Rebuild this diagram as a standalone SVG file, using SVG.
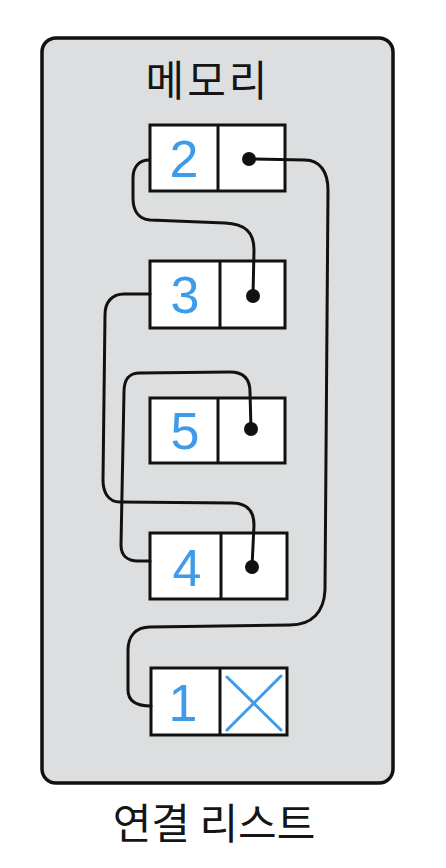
<svg xmlns="http://www.w3.org/2000/svg" width="446" height="868" viewBox="0 0 446 868">
<style>
.cell{fill:#ffffff;stroke:#111;stroke-width:3}
.div{stroke:#111;stroke-width:3}
.num{font-family:"Liberation Sans",Arial,sans-serif;font-size:52px;fill:#3d9be9;text-anchor:middle}
.lbl{font-family:"Noto Sans CJK KR","Noto Sans",sans-serif;font-size:42px;fill:#151515;text-anchor:middle}
.wire{fill:none;stroke:#111;stroke-width:3;stroke-linecap:round;stroke-linejoin:round}
.dot{fill:#111}
</style>
<rect width="446" height="868" fill="#ffffff"/>
<g id="memory">
<rect x="42" y="38" width="351" height="745" rx="14" fill="#dcdedf" stroke="#111" stroke-width="3.5"/>
<text class="lbl" x="208" y="96" font-size="44" letter-spacing="3">메모리</text>
</g>
<g id="node2">
<rect class="cell" x="150" y="125" width="135" height="66"/>
<line class="div" x1="218" y1="125" x2="218" y2="191"/>
<text class="num" x="184" y="177">2</text>
<circle class="dot" cx="249" cy="159" r="7"/>
</g>
<g id="node3">
<rect class="cell" x="150" y="261" width="135" height="67"/>
<line class="div" x1="220" y1="261" x2="220" y2="328"/>
<text class="num" x="185" y="313">3</text>
<circle class="dot" cx="253" cy="296" r="7"/>
</g>
<g id="node5">
<rect class="cell" x="150" y="398" width="135" height="65"/>
<line class="div" x1="218" y1="398" x2="218" y2="463"/>
<text class="num" x="185" y="449">5</text>
<circle class="dot" cx="251" cy="429" r="7"/>
</g>
<g id="node4">
<rect class="cell" x="150" y="533" width="137" height="66"/>
<line class="div" x1="221" y1="533" x2="221" y2="599"/>
<text class="num" x="187" y="586">4</text>
<circle class="dot" cx="252" cy="567" r="7"/>
</g>
<g id="node1">
<rect class="cell" x="151" y="668" width="136" height="67"/>
<line class="div" x1="220" y1="668" x2="220" y2="735"/>
<text class="num" x="183" y="721">1</text>
<path d="M227,677 L281,730 M281,676 L227,730" stroke="#3d9be9" stroke-width="3" fill="none" stroke-linecap="round"/>
</g>
<g id="connectors">
<path class="wire" d="M249,159 L305,160 C320,160 328,172 328,190 L325,590 C324,612 312,625 290,625 L150,627 C135,627 128,637 128,650 L128,690 C128,702 138,706 151,706"/>
<path class="wire" d="M253,296 L254,250 C254,232 245,224 225,223 L150,220 C138,219 133,210 133,198 L133,178 C133,166 140,160 149,160"/>
<path class="wire" d="M252,567 L254,525 C254,510 246,503 232,503 L120,502 C108,502 103,492 103,480 L105,315 C105,302 112,294 124,294 L150,294"/>
<path class="wire" d="M251,429 L250,392 C250,378 243,372 230,372 L140,373 C128,373 124,380 124,392 L121,545 C121,556 128,561 138,561 L150,561"/>
</g>
<text class="lbl" x="214" y="839" font-size="40">연결 리스트</text>
</svg>
